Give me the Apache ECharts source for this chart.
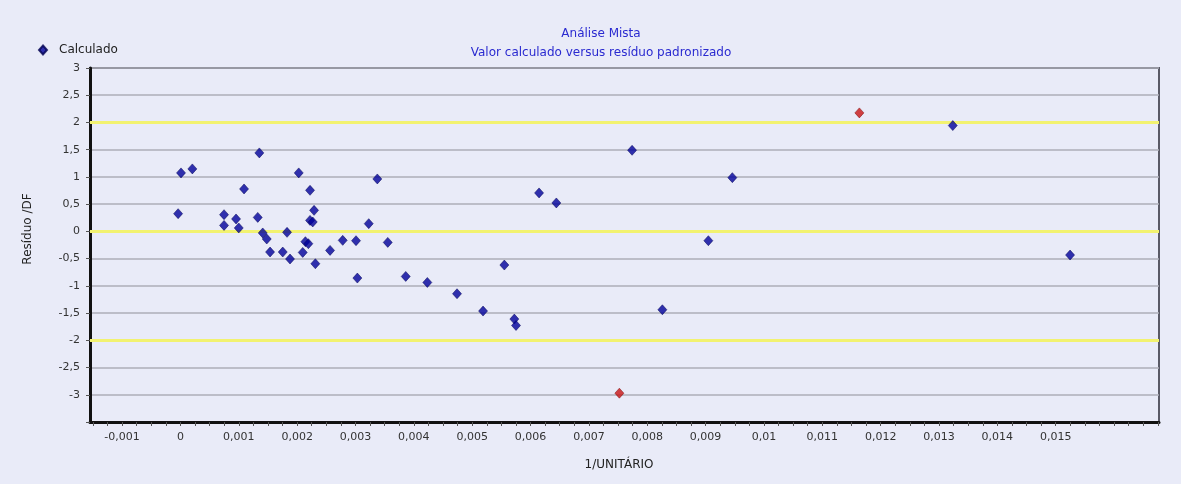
<!DOCTYPE html>
<html>
<head>
<meta charset="utf-8">
<script src="https://cdn.jsdelivr.net/npm/echarts@6/dist/echarts.min.js"></script>
<style>
html,body{margin:0;padding:0;background:#f4f5fb;}
#chart{width:1181px;height:484px;}
</style>
</head>
<body>
<div id="chart"></div>
<script>
// ---- data ----
const calcX = [-0.00004, 0.00001, 0.000204, 0.000747, 0.000747, 0.000953, 0.000999, 0.00109, 0.001352, 0.001325,
  0.00141, 0.001479, 0.001536, 0.001753, 0.001827, 0.001878, 0.002027, 0.002221, 0.00229, 0.002221,
  0.002267, 0.002141, 0.002192, 0.002096, 0.002312, 0.002564, 0.002781, 0.003009, 0.003032, 0.003227,
  0.003374, 0.003553, 0.003861, 0.004231, 0.00474, 0.005186, 0.005551, 0.005722, 0.005751, 0.006146,
  0.006442, 0.00774, 0.008259, 0.009047, 0.009458, 0.013236, 0.015246];
const calcY = [0.325, 1.074, 1.147, 0.307, 0.110, 0.228, 0.063, 0.779, 1.441, 0.257,
  -0.029, -0.140, -0.379, -0.379, -0.018, -0.507, 1.074, 0.754, 0.386, 0.202,
  0.173, -0.189, -0.226, -0.386, -0.594, -0.349, -0.165, -0.171, -0.857, 0.142,
  0.963, -0.202, -0.827, -0.938, -1.145, -1.463, -0.618, -1.61, -1.728, 0.706,
  0.522, 1.489, -1.439, -0.171, 0.987, 1.943, -0.434];
const outlierX = [0.007522, 0.011635];
const outlierY = [-2.971, 2.176];
const limitLines = [2, 0, -2];
const xTickValues = [-0.001, 0, 0.001, 0.002, 0.003, 0.004, 0.005, 0.006, 0.007, 0.008,
  0.009, 0.01, 0.011, 0.012, 0.013, 0.014, 0.015];
const xMinorTickValues = [];
for (let i = -6; i <= 67; i++) xMinorTickValues.push(Number((i * 0.00025).toFixed(5)));
const titleText = 'Análise Mista';
const subtitleText = 'Valor calculado versus resíduo padronizado';
const seriesName = 'Calculado';
const xName = '1/UNITÁRIO';
const yName = 'Resíduo /DF';

function fmt(v) {
  return String(Number(v.toFixed(5))).replace('.', ',');
}

const FONT = 'DejaVu Sans';
const chart = echarts.init(document.getElementById('chart'));
chart.setOption({
  backgroundColor: '#e9ebf8',
  animation: false,
  textStyle: { fontFamily: FONT },
  title: {
    text: titleText,
    subtext: subtitleText,
    left: 596,
    top: 22,
    textAlign: 'center',
    itemGap: 5,
    textStyle: { fontFamily: FONT, fontSize: 12, fontWeight: 'normal', color: '#2a2ad0', lineHeight: 14 },
    subtextStyle: { fontFamily: FONT, fontSize: 12, color: '#2a2ad0', lineHeight: 14 }
  },
  legend: {
    data: [seriesName],
    left: 33,
    top: 39,
    icon: 'diamond',
    itemWidth: 8,
    itemHeight: 9,
    textStyle: { fontFamily: FONT, fontSize: 12, color: '#222', padding: [0, 0, 0, 7] }
  },
  grid: {
    left: 90, right: 22, top: 68, bottom: 62,
    show: true,
    backgroundColor: '#e9ebf8',
    borderColor: '#5a5a66',
    borderWidth: 2
  },
  xAxis: {
    type: 'value',
    min: -0.00155,
    max: 0.01677,
    axisLine: { show: true, onZero: false, lineStyle: { color: '#111', width: 3 } },
    axisTick: { show: true, customValues: xMinorTickValues, length: 4, lineStyle: { color: '#555' } },
    axisLabel: { customValues: xTickValues, formatter: fmt, fontFamily: FONT, fontSize: 11, color: '#333', margin: 10 },
    splitLine: { show: false }
  },
  yAxis: {
    type: 'value',
    min: -3.5,
    max: 3,
    interval: 0.5,
    axisLine: { show: true, onZero: false, lineStyle: { color: '#111', width: 3 } },
    axisTick: { show: true, length: 4, lineStyle: { color: '#555' } },
    axisLabel: {
      fontFamily: FONT, fontSize: 11, color: '#333', margin: 10,
      formatter: function (v) { return v <= -3.49 ? '' : fmt(v); }
    },
    splitLine: { show: true, lineStyle: { color: '#adaeb8', width: 1.5 } }
  },
  graphic: [
    { type: 'text', x: 28, y: 229, rotation: Math.PI / 2,
      style: { text: yName, fontFamily: FONT, fontSize: 12, fill: '#222', align: 'center', verticalAlign: 'middle' } },
    { type: 'text', x: 619, y: 465,
      style: { text: xName, fontFamily: FONT, fontSize: 12, fill: '#222', align: 'center', verticalAlign: 'middle' } }
  ],
  series: [
    {
      name: seriesName,
      type: 'scatter',
      symbol: 'diamond',
      symbolSize: [9, 10],
      itemStyle: { color: '#00009a', borderColor: '#000050', borderWidth: 0.6 },
      data: calcX.map((x, i) => [x, calcY[i]]),
      z: 5,
      markLine: {
        silent: true,
        symbol: 'none',
        label: { show: false },
        lineStyle: { color: '#f2f270', width: 3, type: 'solid' },
        data: limitLines.map(v => ({ yAxis: v }))
      }
    },
    {
      name: 'Fora',
      type: 'scatter',
      symbol: 'diamond',
      symbolSize: [9, 10],
      itemStyle: { color: '#c81414', borderColor: '#700', borderWidth: 0.6 },
      data: outlierX.map((x, i) => [x, outlierY[i]]),
      z: 5
    }
  ]
});
</script>
</body>
</html>
